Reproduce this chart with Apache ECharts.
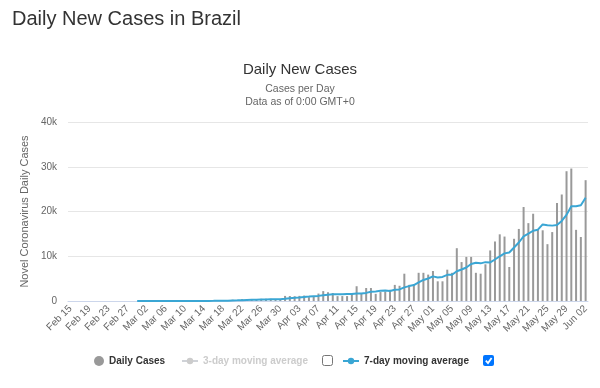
<!DOCTYPE html>
<html><head><meta charset="utf-8">
<script src="https://cdn.jsdelivr.net/npm/echarts/dist/echarts.min.js"></script>
<style>html,body{margin:0;padding:0;background:#fff}#c{width:600px;height:388px}</style>
</head><body><div id="c"></div>
<script>
const categories = [
'Feb 15','Feb 16','Feb 17','Feb 18','Feb 19','Feb 20','Feb 21','Feb 22','Feb 23','Feb 24','Feb 25','Feb 26','Feb 27','Feb 28','Feb 29',
'Mar 01','Mar 02','Mar 03','Mar 04','Mar 05','Mar 06','Mar 07','Mar 08','Mar 09','Mar 10','Mar 11','Mar 12','Mar 13','Mar 14','Mar 15','Mar 16',
'Mar 17','Mar 18','Mar 19','Mar 20','Mar 21','Mar 22','Mar 23','Mar 24','Mar 25','Mar 26','Mar 27','Mar 28','Mar 29','Mar 30','Mar 31',
'Apr 01','Apr 02','Apr 03','Apr 04','Apr 05','Apr 06','Apr 07','Apr 08','Apr 09','Apr 10','Apr 11','Apr 12','Apr 13','Apr 14','Apr 15',
'Apr 16','Apr 17','Apr 18','Apr 19','Apr 20','Apr 21','Apr 22','Apr 23','Apr 24','Apr 25','Apr 26','Apr 27','Apr 28','Apr 29','Apr 30',
'May 01','May 02','May 03','May 04','May 05','May 06','May 07','May 08','May 09','May 10','May 11','May 12','May 13','May 14','May 15','May 16',
'May 17','May 18','May 19','May 20','May 21','May 22','May 23','May 24','May 25','May 26','May 27','May 28','May 29','May 30','May 31',
'Jun 01','Jun 02'];
const dailyCases = [0,0,0,0,0,0,0,0,0,0,0,1,0,0,1,0,0,0,2,5,5,6,5,1,9,18,25,21,23,79,34,57,137,193,283,224,418,345,310,232,482,502,487,352,323,
1138,1119,1074,1146,1222,852,926,1661,2210,1930,1781,1089,1100,1100,1600,3300,1600,2900,2900,1600,2000,2100,2500,3600,3400,6100,3600,3600,
6300,6300,5900,6700,4400,4400,7000,6300,11800,8700,9850,9850,6300,6100,8200,11300,13300,14900,14400,7600,13900,16100,21000,17400,19500,
16100,15800,12700,15400,21900,23800,29000,29600,15900,14300,27000];
const movingAvg3 = [];
const movingAvg7 = [null,null,null,null,null,null,null,null,null,null,null,null,null,null,
0.3,0.3,0.3,0.3,0.4,1.1,1.9,2.6,3.3,3.4,4.7,7,9.9,12.1,14.6,25.1,29.9,36.7,53.7,77.7,115,144,192,237,273,286,328,359,397,387,384,
502,629,714,806,911,982,1068,1143,1299,1421,1512,1493,1528,1553,1544,1700,1653,1813,2071,2143,2271,2343,2229,2514,2586,3043,3329,3557,
4157,4700,5029,5500,5257,5371,5857,5857,6643,7043,7493,8271,8543,8414,8686,8614,9271,9993,10643,10829,11943,13071,14457,15043,15700,
15943,17114,16943,16843,16971,17886,19243,21171,21186,21414,23071];
const yMax = 40000, yStep = 10000;

const chart = echarts.init(document.getElementById('c'));
const F = 'Liberation Sans, Arial, sans-serif';
const legendText = {fontFamily:F, fontSize:10, fontWeight:'bold', color:'#333'};
const subStyle = {fontFamily:F, fontSize:10.5, fontWeight:'normal', color:'#666'};
chart.setOption({
  animation:false,
  textStyle:{fontFamily:F},
  title:[
    {text:'Daily New Cases in Brazil', left:7, top:4, textStyle:{fontFamily:F, fontSize:20, fontWeight:'normal', color:'#333'}},
    {text:'Daily New Cases', left:'center', top:57, textStyle:{fontFamily:F, fontSize:15, fontWeight:'normal', color:'#333'}},
    {text:'Cases per Day', left:'center', top:84, padding:0, textStyle:subStyle},
    {text:'Data as of 0:00 GMT+0', left:'center', top:97, padding:0, textStyle:subStyle}
  ],
  grid:{left:68, right:12, top:122, bottom:87},
  xAxis:{type:'category', data:categories, boundaryGap:true,
    axisLine:{lineStyle:{color:'#ccd6eb'}}, axisTick:{show:false},
    axisLabel:{rotate:45, interval:3, fontSize:10, color:'#666', margin:6}},
  yAxis:{type:'value', min:0, max:yMax, interval:yStep,
    name:'Novel Coronavirus Daily Cases', nameLocation:'middle', nameGap:37,
    nameTextStyle:{fontSize:11, color:'#666'},
    axisLine:{show:false}, axisTick:{show:false},
    splitLine:{lineStyle:{color:'#e6e6e6'}},
    axisLabel:{fontSize:10, color:'#666', margin:11, formatter:v => v===0 ? '0' : (v/1000)+'k'}},
  legend:[
    {data:['Daily Cases'], left:89, top:351, icon:'circle', itemWidth:10, itemHeight:10, textStyle:legendText},
    {data:['3-day moving average'], left:176, top:351, itemWidth:16, itemHeight:8, inactiveColor:'#ccc',
      selected:{'3-day moving average':false}, textStyle:legendText},
    {data:['7-day moving average'], left:337, top:351, itemWidth:16, itemHeight:8, textStyle:legendText}
  ],
  series:[
    {name:'Daily Cases', type:'bar', data:dailyCases, barWidth:2, itemStyle:{color:'#999'}},
    {name:'3-day moving average', type:'line', data:movingAvg3, symbol:'circle', symbolSize:6, itemStyle:{color:'#aaa'}},
    {name:'7-day moving average', type:'line', data:movingAvg7, symbol:'circle', symbolSize:6, showSymbol:false,
      itemStyle:{color:'#3aa6d4'}, lineStyle:{width:2, color:'#3aa6d4'}}
  ],
  graphic:[
    {type:'rect', shape:{x:322.5, y:355.5, width:10, height:10, r:2}, style:{fill:'#fff', stroke:'#767676', lineWidth:1}},
    {type:'rect', shape:{x:483, y:355, width:11, height:11, r:2}, style:{fill:'#0075ff'}},
    {type:'polyline', shape:{points:[[485.8,360.6],[488,363],[491.6,358]]}, style:{stroke:'#fff', lineWidth:1.8, fill:null}}
  ]
});
</script></body></html>
